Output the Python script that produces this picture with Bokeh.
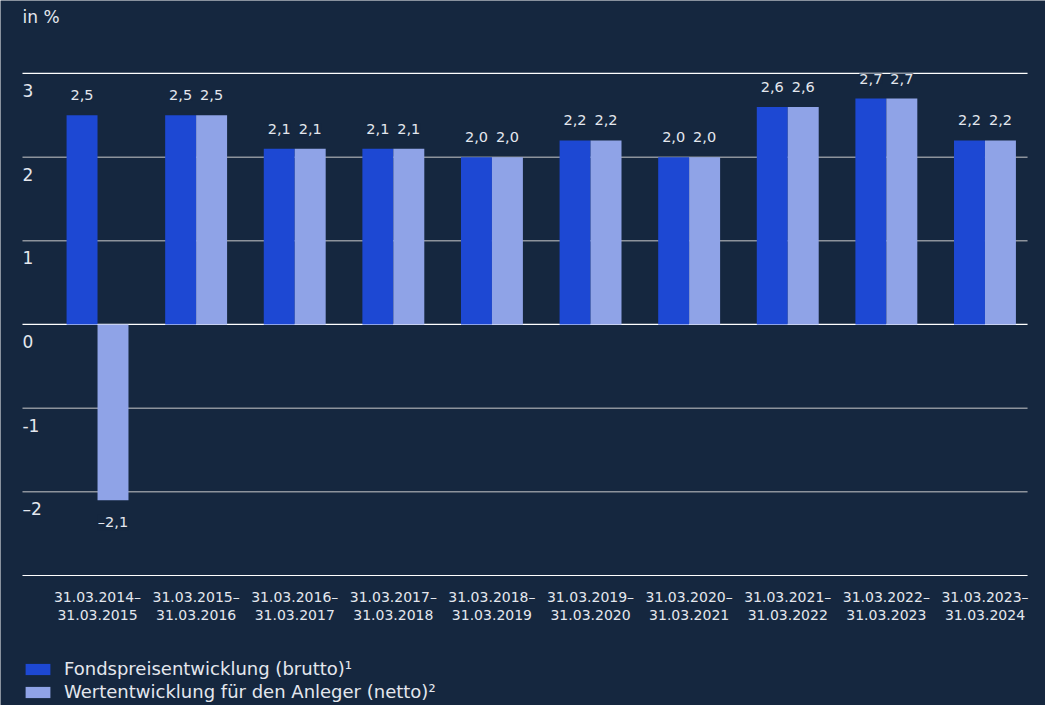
from bokeh.plotting import figure
from bokeh.models import ColumnDataSource, Range1d, LabelSet, Legend, LegendItem
from bokeh.transform import dodge
from bokeh.core.properties import value
from bokeh.embed import file_html
from bokeh.resources import INLINE

# ---- data ----
period_start = ["31.03.2014", "31.03.2015", "31.03.2016", "31.03.2017", "31.03.2018",
                "31.03.2019", "31.03.2020", "31.03.2021", "31.03.2022", "31.03.2023"]
period_end = ["31.03.2015", "31.03.2016", "31.03.2017", "31.03.2018", "31.03.2019",
              "31.03.2020", "31.03.2021", "31.03.2022", "31.03.2023", "31.03.2024"]
brutto = [2.5, 2.5, 2.1, 2.1, 2.0, 2.2, 2.0, 2.6, 2.7, 2.2]
netto = [-2.1, 2.5, 2.1, 2.1, 2.0, 2.2, 2.0, 2.6, 2.7, 2.2]
y_ticks = [3, 2, 1, 0, -1, -2]
y_tick_labels = ["3", "2", "1", "0", "-1", "–2"]
grid_values = [3, 2, 1, 0, -1, -2, -3]
series_names = ["Fondspreisentwicklung (brutto)¹", "Wertentwicklung für den Anleger (netto)²"]
unit_label = "in %"

BG = "#15273f"
C_DARK = "#1d48d3"
C_LIGHT = "#8fa3e7"
TXT = "#e4e7ee"
GRID = "#8d939c"
FONT = value("DejaVu Sans")

# plot-area extent in data units (the frame covers the whole canvas)
PX0, PX1 = -0.761, 9.432
PY0, PY1 = -3, 3

def fmt(v):
    return f"{v:.1f}".replace(".", ",").replace("-", "–")

idx = list(range(len(period_start)))
src = ColumnDataSource(dict(x=idx, brutto=brutto, netto=netto))

W, H = 1045, 705
p = figure(width=W, height=H, output_backend="svg", toolbar_location=None,
           x_range=Range1d(-0.984, 9.614), y_range=Range1d(-4.554, 3.872),
           min_border=0, background_fill_color=BG, border_fill_color=BG,
           outline_line_color=None)
p.xaxis.visible = False
p.yaxis.visible = False
p.xgrid.visible = False
p.ygrid.visible = False

# gridlines
gsrc = ColumnDataSource(dict(x0=[PX0] * len(grid_values), x1=[PX1] * len(grid_values),
                             y=grid_values,
                             c=["#ffffff" if v in (3, 0, -3) else GRID for v in grid_values],
                             w=[1.2 if v in (3, 0, -3) else 1.5 for v in grid_values]))
p.segment(x0="x0", y0="y", x1="x1", y1="y", line_color="c", line_width="w", source=gsrc)

bw = 0.314
r1 = p.vbar(x=dodge("x", -bw / 2), top="brutto", bottom=0, width=bw, source=src,
            fill_color=C_DARK, line_color=None)
r2 = p.vbar(x=dodge("x", bw / 2), top="netto", bottom=0, width=bw, source=src,
            fill_color=C_LIGHT, line_color=None)

# value labels
lx, ly, lt, lo = [], [], [], []
for i in idx:
    for off, v in ((-bw / 2, brutto[i]), (bw / 2, netto[i])):
        lx.append(i + off)
        ly.append(v)
        lt.append(fmt(v))
        lo.append(20 if v >= 0 else -22)
lsrc = ColumnDataSource(dict(x=lx, y=ly, t=lt, o=lo))
p.add_layout(LabelSet(x="x", y="y", text="t", y_offset="o", source=lsrc,
                      text_align="center", text_baseline="middle",
                      text_font=FONT, text_font_size="14.5px", text_color=TXT,
                      background_fill_color=BG))

# y tick labels (below gridlines, left aligned)
ysrc = ColumnDataSource(dict(x=[PX0] * len(y_ticks), y=y_ticks, t=y_tick_labels))
p.add_layout(LabelSet(x="x", y="y", text="t", source=ysrc, y_offset=-17,
                      text_align="left", text_baseline="middle",
                      text_font=FONT, text_font_size="17px", text_color=TXT))

usrc = ColumnDataSource(dict(x=[PX0], y=[PY1], t=[unit_label]))
p.add_layout(LabelSet(x="x", y="y", text="t", source=usrc, y_offset=56,
                      text_align="left", text_baseline="middle",
                      text_font=FONT, text_font_size="17px", text_color=TXT))

# category labels (two lines)
xsrc = ColumnDataSource(dict(x=idx, y=[PY0] * len(idx),
                             t1=[s + "–" for s in period_start], t2=period_end))
p.add_layout(LabelSet(x="x", y="y", text="t1", source=xsrc, y_offset=-22,
                      text_align="center", text_baseline="middle",
                      text_font=FONT, text_font_size="14px", text_color=TXT))
p.add_layout(LabelSet(x="x", y="y", text="t2", source=xsrc, y_offset=-40,
                      text_align="center", text_baseline="middle",
                      text_font=FONT, text_font_size="14px", text_color=TXT))

legend = Legend(items=[LegendItem(label=series_names[0], renderers=[r1]),
                       LegendItem(label=series_names[1], renderers=[r2])],
                location=(22, 3), orientation="vertical",
                glyph_width=31, glyph_height=14, label_standoff=11, spacing=2,
                padding=0, margin=0, label_height=20,
                label_text_font="DejaVu Sans", label_text_font_size="18px",
                label_text_color=TXT,
                background_fill_alpha=0, border_line_color=None)
p.add_layout(legend)

open("out.html", "w").write(file_html(p, INLINE))
